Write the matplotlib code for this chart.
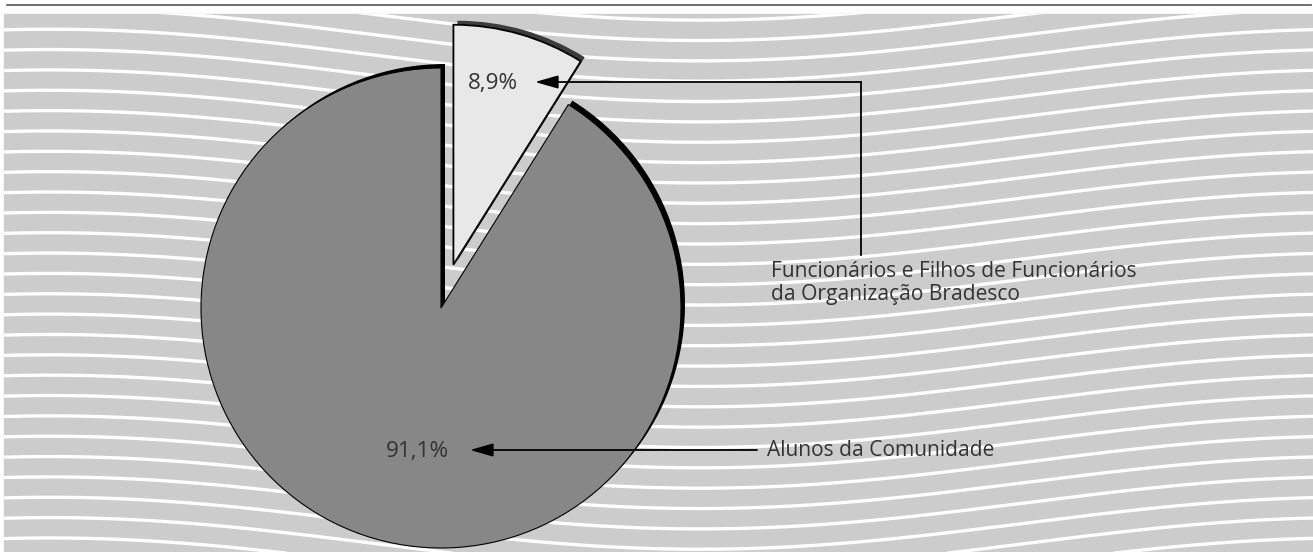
import numpy as np
import matplotlib
matplotlib.use("Agg")
import matplotlib.pyplot as plt

# Distribuição dos alunos
SHARES = [8.9, 91.1]
PCT_LABELS = ["8,9%", "91,1%"]
GROUPS = ["Funcionários e Filhos de Funcionários\nda Organização Bradesco",
          "Alunos da Comunidade"]

W, H = 1313, 552
BG_GRAY = "#cccccc"
SLICE_COLORS = ["#e8e8e8", "#878787"]
SHADOW_COLORS = ["#3c3c3c", "#000000"]
TEXT = "#333333"

plt.rcParams["font.family"] = ["Open Sans", "DejaVu Sans"]


def py(y):
    # pixel row (top-down) -> data y (bottom-up)
    return H - y


fig = plt.figure(figsize=(W / 100, H / 100), dpi=100)
ax = fig.add_axes([0, 0, 1, 1])

# wavy striped background
ax.add_patch(plt.Rectangle((4, 0), W - 4, py(14), color=BG_GRAY, zorder=0))
xs = np.linspace(4, W, 600)
clip = plt.Rectangle((4, 0), W - 4, py(14), transform=ax.transData)
for k in range(-4, 30):
    yrow = 55.2 + 20.35 * k + 26 * np.cos(2 * np.pi * (xs - 700) / 1300)
    ln, = ax.plot(xs, py(yrow), color="white", lw=2.4, zorder=1)
    ln.set_clip_path(clip)

# rule at the top
ax.plot([7, 1311], [py(4.7), py(4.7)], color="#555555", lw=1.2, zorder=1)

center = (441, py(308))
radius = 240
explode = [45, 0]

# shadow underneath, shifted up and to the right
ax.pie(SHARES, colors=SHADOW_COLORS, startangle=90, counterclock=False,
       center=(center[0] + 4, center[1] + 4), radius=radius, explode=explode,
       wedgeprops=dict(linewidth=0, zorder=2), frame=True)
wedges, _ = ax.pie(SHARES, colors=SLICE_COLORS, startangle=90, counterclock=False,
                   center=center, radius=radius, explode=explode,
                   wedgeprops=dict(edgecolor="black", linewidth=0.8, zorder=3),
                   frame=True)
wedges[0].set_linewidth(1.3)
for w in wedges:
    w.set_zorder(3)

ax.text(493, py(83), PCT_LABELS[0], fontsize=16.2, color=TEXT,
        ha="center", va="center", zorder=5)
ax.text(417, py(452), PCT_LABELS[1], fontsize=16.2, color=TEXT,
        ha="center", va="center", zorder=5)

ax.text(771, py(261), GROUPS[0], fontsize=15.1, color=TEXT,
        ha="left", va="top", linespacing=1.15, zorder=5)
ax.text(767, py(450), GROUPS[1], fontsize=15.1, color=TEXT,
        ha="left", va="center", zorder=5)

arrow = dict(arrowstyle="-|>,head_length=1.4,head_width=0.4", color="black",
             lw=1.3, shrinkA=0, shrinkB=0)
ax.plot([860.5, 860.5], [py(255), py(82)], color="black", lw=1.3, zorder=6)
ax.annotate("", xy=(535, py(82)), xytext=(861, py(82)),
            arrowprops=arrow, zorder=6)
ax.annotate("", xy=(470, py(450)), xytext=(757, py(450)),
            arrowprops=arrow, zorder=6)

ax.set_xlim(0, W)
ax.set_ylim(0, H)
ax.set_aspect("auto")
ax.axis("off")

fig.savefig("out.png", dpi=100, facecolor="white")
